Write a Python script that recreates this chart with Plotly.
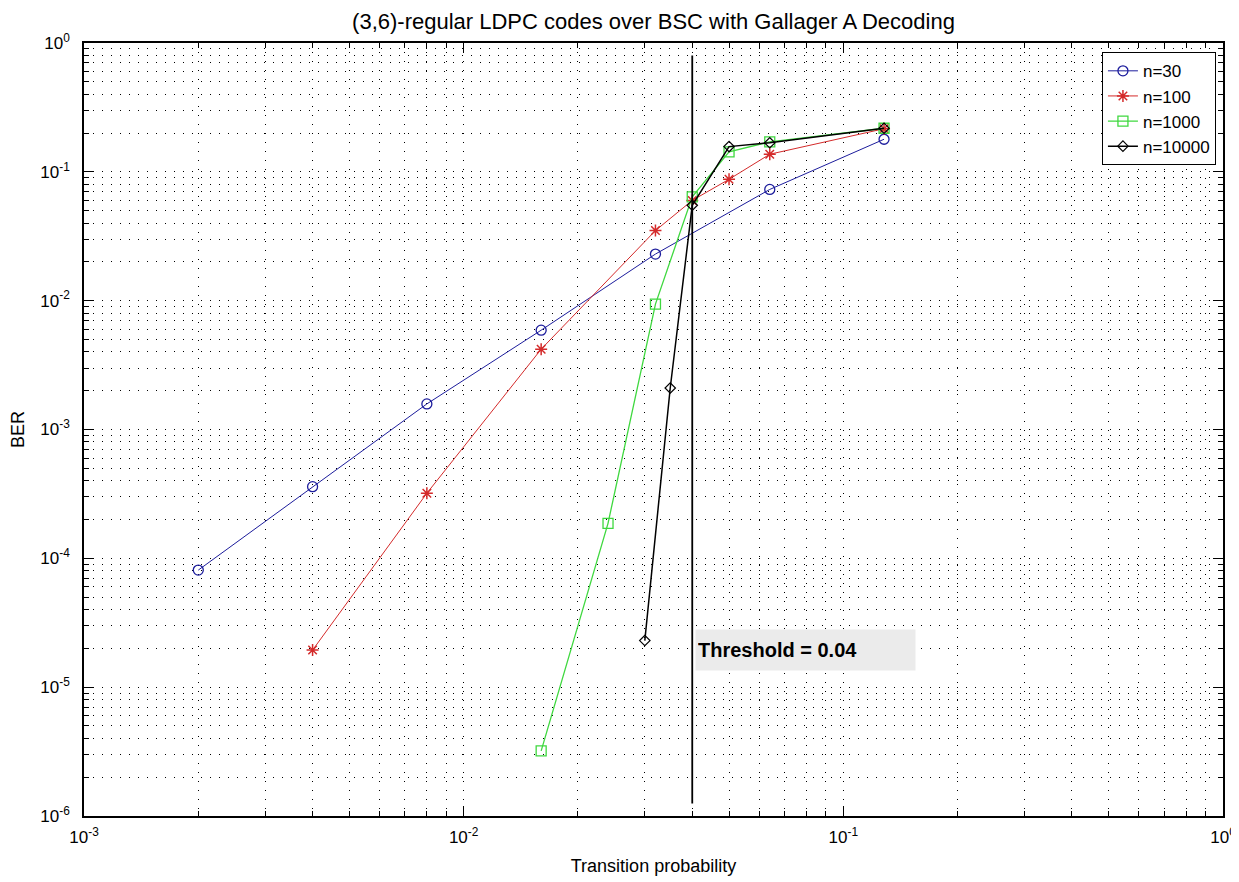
import plotly.graph_objects as go

# ---- data ----
p30 = [0.002, 0.004, 0.008, 0.016, 0.032, 0.064, 0.128]
ber30 = [8.1e-5, 3.6e-4, 1.58e-3, 5.9e-3, 2.3e-2, 7.3e-2, 1.79e-1]

p100 = [0.004, 0.008, 0.016, 0.032, 0.04, 0.05, 0.064, 0.128]
ber100 = [1.94e-5, 3.2e-4, 4.2e-3, 3.5e-2, 6.0e-2, 8.75e-2, 1.37e-1, 2.16e-1]

p1000 = [0.016, 0.024, 0.032, 0.04, 0.05, 0.064, 0.128]
ber1000 = [3.2e-6, 1.87e-4, 9.4e-3, 6.4e-2, 1.43e-1, 1.71e-1, 2.18e-1]

p10000 = [0.03, 0.035, 0.04, 0.05, 0.064, 0.128]
ber10000 = [2.3e-5, 2.1e-3, 5.5e-2, 1.57e-1, 1.68e-1, 2.18e-1]

threshold_x = [0.04, 0.04]
threshold_y = [1.25e-6, 0.8]

x_tickvals = [1e-3, 1e-2, 1e-1, 1e0]
x_ticktext = ["10<sup>-3</sup>", "10<sup>-2</sup>", "10<sup>-1</sup>", "10<sup>0</sup>"]
y_tickvals = [1e-6, 1e-5, 1e-4, 1e-3, 1e-2, 1e-1, 1e0]
y_ticktext = ["10<sup>-6</sup>", "10<sup>-5</sup>", "10<sup>-4</sup>", "10<sup>-3</sup>",
              "10<sup>-2</sup>", "10<sup>-1</sup>", "10<sup>0</sup>"]

FONT = "Liberation Sans, Arial, sans-serif"

# the page body has an 8px default margin, so the figure is sized to fit the window
W, H = 1231, 874

fig = go.Figure()

fig.add_trace(go.Scatter(x=p30, y=ber30, mode="lines+markers", name="n=30",
                         line=dict(color="#1c1c9c", width=1),
                         marker=dict(symbol="circle-open", size=10, color="#1c1c9c",
                                     line=dict(width=1.3))))
fig.add_trace(go.Scatter(x=p100, y=ber100, mode="lines+markers", name="n=100",
                         line=dict(color="#d42a2a", width=1),
                         marker=dict(symbol="asterisk-open", size=10, color="#d42a2a",
                                     line=dict(width=1.5, color="#d42a2a"))))
fig.add_trace(go.Scatter(x=p1000, y=ber1000, mode="lines+markers", name="n=1000",
                         line=dict(color="#3fd83f", width=1.3),
                         marker=dict(symbol="square-open", size=10, color="#3fd83f",
                                     line=dict(width=1.3))))
fig.add_trace(go.Scatter(x=p10000, y=ber10000, mode="lines+markers", name="n=10000",
                         line=dict(color="#000000", width=1.5),
                         marker=dict(symbol="diamond-open", size=8, color="#000000",
                                     line=dict(width=1.2))))
fig.add_trace(go.Scatter(x=threshold_x, y=threshold_y, mode="lines", showlegend=False,
                         line=dict(color="#000000", width=1.8), hoverinfo="skip"))

grid_common = dict(
    showgrid=True, gridcolor="#000000", gridwidth=1, griddash="1px,8px",
    showline=True, linecolor="#000000", linewidth=1.5, mirror="allticks",
    ticks="inside", ticklen=10, tickwidth=1, tickcolor="#000000",
    zeroline=False,
    tickfont=dict(family=FONT, size=17, color="#000000"),
    minor=dict(ticks="inside", ticklen=5, tickwidth=1, tickcolor="#000000",
               dtick="D1", showgrid=True, gridcolor="#000000", gridwidth=1,
               griddash="1px,8px"),
)

fig.update_xaxes(type="log", range=[-3, 0], tickmode="array",
                 tickvals=x_tickvals, ticktext=x_ticktext, ticklabelstandoff=5,
                 title=dict(text="Transition probability", standoff=13,
                            font=dict(family=FONT, size=18, color="#000000")),
                 **grid_common)
fig.update_yaxes(type="log", range=[-6, 0], tickmode="array",
                 tickvals=y_tickvals, ticktext=y_ticktext, ticklabelstandoff=9,
                 title=dict(text="BER", standoff=13,
                            font=dict(family=FONT, size=18, color="#000000")),
                 **grid_common)

fig.add_annotation(xref="paper", yref="paper", x=0.5364, y=0.2148,
                   xanchor="left", yanchor="middle",
                   text="<b>Threshold = 0.04</b>", showarrow=False,
                   align="left", width=215, height=36, borderpad=2,
                   bgcolor="#ebebeb",
                   font=dict(family=FONT, size=20, color="#000000"))

fig.update_layout(
    width=W, height=H,
    margin=dict(l=76, r=16, t=35, b=66, autoexpand=False),
    paper_bgcolor="#ffffff", plot_bgcolor="#ffffff",
    title=dict(text="(3,6)-regular LDPC codes over BSC with Gallager A Decoding",
               x=0.5, xref="paper", xanchor="center",
               y=1 - 13 / H, yref="container", yanchor="middle",
               font=dict(family=FONT, size=22, color="#000000")),
    legend=dict(x=0.9938, y=0.988, xanchor="right", yanchor="top",
                bgcolor="#ffffff", bordercolor="#000000", borderwidth=1,
                font=dict(family=FONT, size=17, color="#000000"),
                tracegroupgap=0),
    showlegend=True,
)

fig.write_html("out.html")
